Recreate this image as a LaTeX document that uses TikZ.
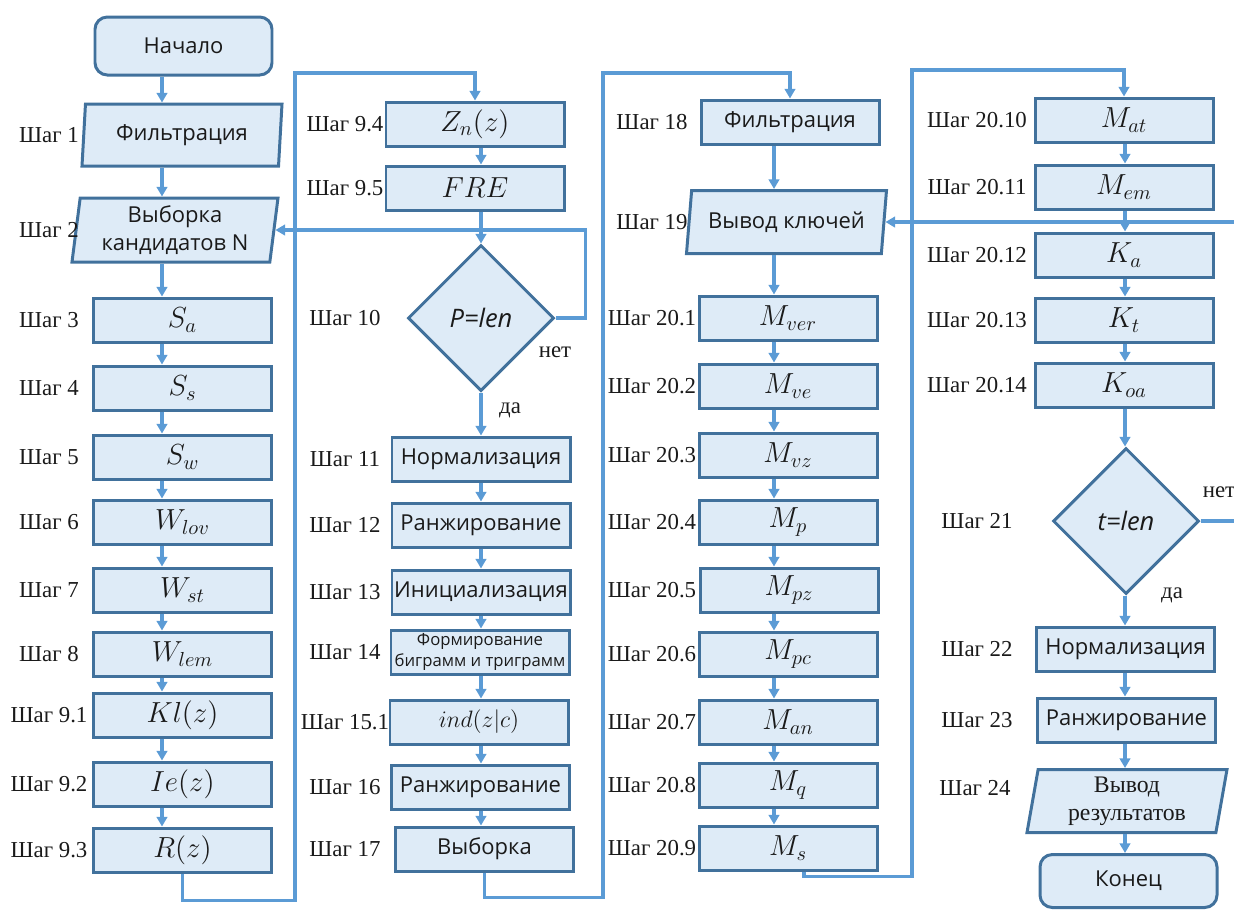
\documentclass[tikz,border=0pt]{standalone}
\usepackage{fix-cm}
\usepackage[no-math]{fontspec}
\setmainfont{Liberation Serif}
\newfontfamily\boxfont{Open Sans}
\usepackage{tikz}
\usetikzlibrary{arrows.meta,shapes.geometric,calc}
\definecolor{LineBlue}{HTML}{5B9BD5}
\definecolor{FrameBlue}{HTML}{41719C}
\definecolor{FillBlue}{HTML}{DEEBF7}
\definecolor{Ink}{HTML}{1A1A1A}

\begin{document}
\begin{tikzpicture}[x=1cm,y=1cm,>={Triangle[width=6pt,length=5.5pt]}]
  \tikzset{proc/.style={draw=FrameBlue,line width=1.7pt,fill=FillBlue,minimum width=3.56cm,minimum height=0.88cm,inner sep=1pt,align=center,text=Ink,font=\boxfont\fontsize{12.5}{15.5}\selectfont},
           mth/.style={proc,font=\fontsize{16.5}{18}\selectfont},
           io/.style={proc,trapezium,trapezium left angle=78,trapezium right angle=102,trapezium stretches body,minimum width=4.0cm,minimum height=1.26cm},
           term/.style={proc,rounded corners=7pt,minimum width=3.54cm,minimum height=1.16cm},
           cond/.style={proc,diamond,minimum width=2.92cm,minimum height=2.92cm,font=\boxfont\itshape\fontsize{14.5}{16}\selectfont},
           steplbl/.style={text=Ink,font=\fontsize{13}{15}\selectfont},
           flow/.style={->,draw=LineBlue,line width=1.8pt}}
  \useasboundingbox (0,0) rectangle (24.68,-18.2);
  % column 1
  \node[term] (start) at (3.67,-0.92) {Начало};
  \node[io,trapezium left angle=82,trapezium right angle=98,minimum height=1.24cm] (f1) at (3.64,-2.7) {Фильтрация};
  \node[io,trapezium left angle=81,trapezium right angle=99,minimum width=4.12cm,minimum height=1.28cm] (sel) at (3.5,-4.6) {Выборка\\кандидатов N};
  \node[mth] (sa) at (3.65,-6.4) {$S_a$};
  \node[mth] (ss) at (3.65,-7.76) {$S_s$};
  \node[mth] (sw) at (3.65,-9.14) {$S_w$};
  \node[mth] (wlov) at (3.65,-10.44) {$W_{lov}$};
  \node[mth] (wst) at (3.65,-11.8) {$W_{st}$};
  \node[mth] (wlem) at (3.65,-13.08) {$W_{lem}$};
  \node[mth] (kl) at (3.65,-14.3) {$Kl(z)$};
  \node[mth] (ie) at (3.65,-15.68) {$Ie(z)$};
  \node[mth] (rz) at (3.65,-17.0) {$R(z)$};
  % column 2
  \node[mth] (zn) at (9.5,-2.48) {$Z_n(z)$};
  \node[mth] (fre) at (9.5,-3.76) {$FRE$};
  \node[cond] (plen) at (9.62,-6.36) {P=len};
  \node[proc] (norm1) at (9.62,-9.18) {Нормализация};
  \node[proc] (rank1) at (9.62,-10.5) {Ранжирование};
  \node[proc] (init) at (9.62,-11.84) {Инициализация};
  \node[proc,font=\boxfont\fontsize{9.5}{11.5}\selectfont] (form) at (9.6,-13.04) {Формирование\\биграмм и триграмм};
  \node[mth,font=\fontsize{13.5}{16}\selectfont] (ind) at (9.58,-14.44) {$ind(z|c)$};
  \node[proc] (rank2) at (9.61,-15.74) {Ранжирование};
  \node[proc] (pick) at (9.69,-16.98) {Выборка};
  % column 3
  \node[proc] (f18) at (15.8,-2.44) {Фильтрация};
  \node[io] (keys) at (15.73,-4.44) {Вывод ключей};
  \node[mth] (mver) at (15.76,-6.36) {$M_{ver}$};
  \node[mth] (mve) at (15.76,-7.72) {$M_{ve}$};
  \node[mth] (mvz) at (15.76,-9.1) {$M_{vz}$};
  \node[mth] (mp) at (15.76,-10.44) {$M_p$};
  \node[mth] (mpz) at (15.78,-11.8) {$M_{pz}$};
  \node[mth] (mpc) at (15.76,-13.08) {$M_{pc}$};
  \node[mth] (man) at (15.76,-14.44) {$M_{an}$};
  \node[mth] (mq) at (15.76,-15.7) {$M_q$};
  \node[mth] (ms) at (15.76,-16.96) {$M_s$};
  % column 4
  \node[mth] (mat) at (22.48,-2.4) {$M_{at}$};
  \node[mth] (mem) at (22.48,-3.74) {$M_{em}$};
  \node[mth] (ka) at (22.48,-5.1) {$K_a$};
  \node[mth] (kt) at (22.48,-6.4) {$K_t$};
  \node[mth] (koa) at (22.48,-7.7) {$K_{oa}$};
  \node[cond] (tlen) at (22.52,-10.42) {t=len};
  \node[proc] (norm2) at (22.51,-12.98) {Нормализация};
  \node[proc] (rank3) at (22.53,-14.4) {Ранжирование};
  \node[io,font=\rmfamily\fontsize{13.5}{16}\selectfont] (out) at (22.54,-16.02) {Вывод\\результатов};
  \node[term,minimum height=1.06cm] (fin) at (22.57,-17.62) {Конец};
  % step labels
  \foreach \n/\st in {f1/1,sel/2,sa/3,ss/4,sw/5,wlov/6,wst/7,wlem/8,kl/9.1,ie/9.2,rz/9.3}
    {\node[steplbl] (l\n) at (0.98,0 |- \n) {Шаг \st};}
  \foreach \n/\st in {zn/9.4,fre/9.5,plen/10,norm1/11,rank1/12,init/13,form/14,ind/15.1,rank2/16,pick/17}
    {\node[steplbl] (l\n) at (6.9,0 |- \n) {Шаг \st};}
  \foreach \n/\st in {f18/18,keys/19,mver/20.1,mve/20.2,mvz/20.3,mp/20.4,mpz/20.5,mpc/20.6,man/20.7,mq/20.8,ms/20.9}
    {\node[steplbl] (l\n) at (13.04,0 |- \n) {Шаг \st};}
  \foreach \n/\st in {mat/20.10,mem/20.11,ka/20.12,kt/20.13,koa/20.14,tlen/21,norm2/22,rank3/23}
    {\node[steplbl] (l\n) at (19.54,0 |- \n) {Шаг \st};}
  \node[steplbl] (lout) at (19.5,-15.76) {Шаг 24};
  \node[steplbl] (yes1) at (10.2,-8.2) {да};
  \node[steplbl] (no1) at (11.1,-7.04) {нет};
  \node[steplbl] (yes2) at (23.44,-11.9) {да};
  \node[steplbl] (no2) at (24.38,-9.84) {нет};
  % connectors
  \coordinate (ax1) at (3.24,0);
  \coordinate (ax2) at (9.62,0);
  \coordinate (ax3) at (15.48,0);
  \coordinate (ax4) at (22.5,0);
  \coordinate (busA) at (5.9,-1.46);
  \coordinate (busB) at (12.06,-1.46);
  \coordinate (busC) at (18.24,-1.4);
  \foreach \a/\b in {start/f1,f1/sel,sel/sa,sa/ss,ss/sw,sw/wlov,wlov/wst,wst/wlem,wlem/kl,kl/ie,ie/rz}
    {\draw[flow] (\a.south -| ax1) -- (\b.north -| ax1);}
  \foreach \a/\b in {zn/fre,fre/plen,plen/norm1,norm1/rank1,rank1/init,init/form,form/ind,ind/rank2,rank2/pick}
    {\draw[flow] (\a.south -| ax2) -- (\b.north -| ax2);}
  \foreach \a/\b in {f18/keys,keys/mver,mver/mve,mve/mvz,mvz/mp,mp/mpz,mpz/mpc,mpc/man,man/mq,mq/ms}
    {\draw[flow] (\a.south -| ax3) -- (\b.north -| ax3);}
  \foreach \a/\b in {mat/mem,mem/ka,ka/kt,kt/koa,koa/tlen,tlen/norm2,norm2/rank3,rank3/out,out/fin}
    {\draw[flow] (\a.south -| ax4) -- (\b.north -| ax4);}
  \draw[flow] (rz.south) -- ++(0,-0.54) -| (busA) -| (zn.north);
  \draw[flow] (pick.south) -- ++(0,-0.5) -| (busB) -| (f18.north);
  \draw[flow] ([xshift=0.32cm]ms.south) -- ++(0,-0.1) -| (busC) -| (mat.north);
  \draw[flow] (plen.east) -- ++(0.6,0) |- (sel.east);
  \draw[flow] (tlen.east) -- ++(0.72,0) |- (keys.east);
\end{tikzpicture}
\end{document}
